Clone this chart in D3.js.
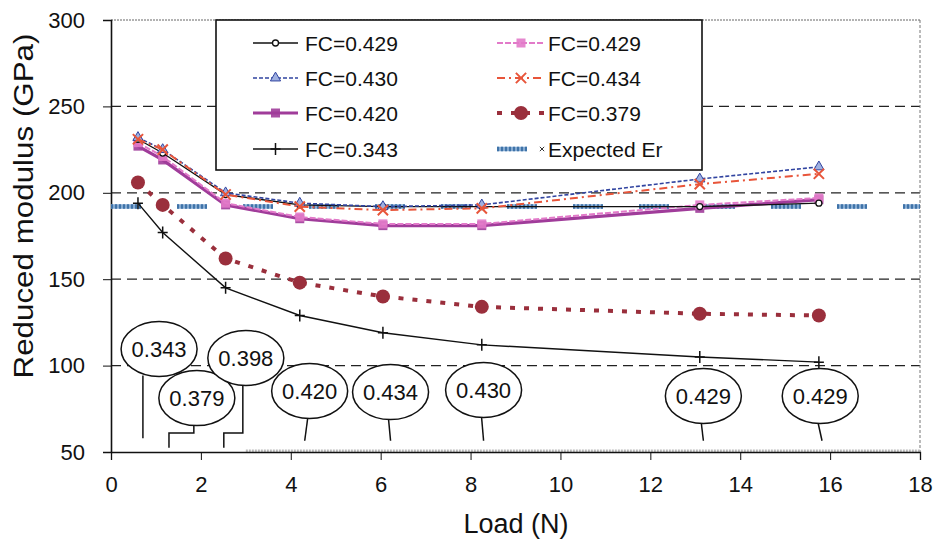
<!DOCTYPE html>
<html>
<head>
<meta charset="utf-8">
<script src="https://cdn.jsdelivr.net/npm/d3@7"></script>
<style>
    body { margin: 0; background: #fff; }
    text { font-family: "Liberation Sans", Arial, sans-serif; fill: #111; }
</style>
</head>
<body>
<svg id="chart" width="940" height="550"></svg>
<script>
// load values (N) where indentation was done
var loads = [0.6, 1.15, 2.55, 4.2, 6.05, 8.25, 13.1, 15.75]

// reduced modulus (GPa) per fill factor
var fc429a = [231, 223, 199, 193, 192, 192, 192, 194]
var fc430  = [232, 225, 200, 194, 192, 193, 208, 215]
var fc420  = [227, 219, 193, 185, 181, 181, 191, 196]
var fc343  = [194, 177, 145, 129, 119, 112, 105, 102]
var fc429b = [229, 221, 194, 186, 182, 182, 193, 197]
var fc434  = [231, 225, 199, 192, 190, 191, 205, 211]
var fc379  = [206, 193, 162, 148, 140, 134, 130, 129]
var expectedEr = 192

var legendLabels = ["FC=0.429", "FC=0.430", "FC=0.420", "FC=0.343",
                    "FC=0.429", "FC=0.434", "FC=0.379", "Expected Er"]

var xTicks = [0, 2, 4, 6, 8, 10, 12, 14, 16, 18]
var yTicks = [50, 100, 150, 200, 250, 300]

// callout bubbles: label, bubble centre (load, GPa), leader foot load
var bubbleLabels = ["0.343", "0.379", "0.398", "0.420", "0.434", "0.430", "0.429", "0.429"]
var bubbleX      = [1.07, 1.91, 3.0, 4.42, 6.22, 8.29, 13.18, 15.78]
var bubbleY      = [109.6, 81.2, 104.4, 85.3, 84.7, 85.9, 82.4, 82.4]
var leaderX      = [0.71, 1.29, 2.51, 4.31, 6.22, 8.29, 13.18, 15.82]

var svg = d3.select("#chart")
var margin = {left: 111, right: 20, top: 20, bottom: 98}
var width = 940 - margin.left - margin.right
var height = 550 - margin.top - margin.bottom

var x = d3.scaleLinear().domain([0, 18]).range([margin.left, margin.left + width])
var y = d3.scaleLinear().domain([50, 300]).range([margin.top + height, margin.top])

var series = [
    {vals: fc343,  color: "#111", w: 1.4, dash: null, marker: "plus"},
    {vals: fc379,  color: "#9a2f3c", w: 4, dash: "5,9", marker: "dot"},
    {vals: fc420,  color: "#a03c9a", w: 3.2, dash: null, marker: "square"},
    {vals: fc429b, color: "#e27ac9", w: 2, dash: "6,2", marker: "square"},
    {vals: fc429a, color: "#111", w: 1.3, dash: null, marker: "circle"},
    {vals: fc430,  color: "#3144a0", w: 1.6, dash: "4,2", marker: "triangle"},
    {vals: fc434,  color: "#e8553a", w: 2, dash: "8,4,2,4", marker: "times"}
]
var legendSeries = [series[4], series[5], series[2], series[0], series[3], series[6], series[1], null]

// grid lines
svg.append("g").selectAll("line")
    .data([100, 150, 200, 250])
    .enter().append("line")
    .attr("x1", x(0)).attr("x2", x(18))
    .attr("y1", function(d){return y(d)}).attr("y2", function(d){return y(d)})
    .attr("stroke", "#222").attr("stroke-width", 1.2).attr("stroke-dasharray", "10,6")

svg.append("line")
    .attr("x1", x(0)).attr("x2", x(18)).attr("y1", y(300)).attr("y2", y(300))
    .attr("stroke", "#666").attr("stroke-width", 1).attr("stroke-dasharray", "2,1")
svg.append("line")
    .attr("x1", x(18)).attr("x2", x(18)).attr("y1", y(300)).attr("y2", y(50))
    .attr("stroke", "#777").attr("stroke-width", 1).attr("stroke-dasharray", "3,2")
// faint grey band along bottom of plot
svg.append("line")
    .attr("x1", x(3)).attr("x2", x(18)).attr("y1", y(50) - 1).attr("y2", y(50) - 1)
    .attr("stroke", "#bbb").attr("stroke-width", 3).attr("stroke-dasharray", "2,1")

// axes
var xAxis = d3.axisBottom(x).tickValues(xTicks).tickSize(8).tickFormat(d3.format("d"))
var yAxis = d3.axisLeft(y).tickValues(yTicks).tickSize(8).tickFormat(d3.format("d"))

var gx = svg.append("g").attr("transform", "translate(0," + y(50) + ")").call(xAxis)
gx.select(".domain").attr("stroke", "#111").attr("stroke-width", 1.3)
gx.selectAll(".tick line").attr("stroke", "#111")
gx.selectAll(".tick text").attr("font-size", 22).attr("dy", "1.3em")
    .style("font-family", "Liberation Sans, Arial, sans-serif").attr("fill", "#111")

var gy = svg.append("g").attr("transform", "translate(" + x(0) + ",0)").call(yAxis)
gy.select(".domain").attr("stroke", "#111").attr("stroke-width", 1.6)
gy.selectAll(".tick line").attr("stroke", "#111")
gy.selectAll(".tick text").attr("font-size", 22).attr("x", -26)
    .style("font-family", "Liberation Sans, Arial, sans-serif").attr("fill", "#111")

svg.append("text")
    .attr("x", 516).attr("y", 533)
    .attr("text-anchor", "middle").attr("font-size", 27)
    .text("Load (N)")

svg.append("text")
    .attr("transform", "translate(33,206) rotate(-90)")
    .attr("text-anchor", "middle").attr("font-size", 27)
    .attr("textLength", 345).attr("lengthAdjust", "spacingAndGlyphs")
    .text("Reduced modulus (GPa)")

// expected Er reference line (hatched look: light dashes with dark stripes on top)
svg.append("line")
    .attr("x1", x(0)).attr("x2", x(18))
    .attr("y1", y(expectedEr)).attr("y2", y(expectedEr))
    .attr("stroke", "#86abd2").attr("stroke-width", 4.5).attr("stroke-dasharray", "30,36")
svg.append("line")
    .attr("x1", x(0)).attr("x2", x(18))
    .attr("y1", y(expectedEr)).attr("y2", y(expectedEr))
    .attr("stroke", "#3f73a8").attr("stroke-width", 4.5)
    .attr("stroke-dasharray", "2,2,2,2,2,2,2,2,2,2,2,2,2,2,2,36")

function drawMarker(g, type, color, cx, cy)
{
    if(type == "plus")
    {
        g.append("path")
            .attr("d", "M" + (cx - 5) + "," + cy + "H" + (cx + 5) + "M" + cx + "," + (cy - 6) + "V" + (cy + 6))
            .attr("stroke", color).attr("stroke-width", 1.5)
    }
    else if(type == "dot")
    {
        g.append("circle").attr("cx", cx).attr("cy", cy).attr("r", 7).attr("fill", color)
    }
    else if(type == "square")
    {
        g.append("rect").attr("x", cx - 4.5).attr("y", cy - 4.5).attr("width", 9).attr("height", 9)
            .attr("fill", color).attr("opacity", 0.9)
    }
    else if(type == "circle")
    {
        g.append("circle").attr("cx", cx).attr("cy", cy).attr("r", 3)
            .attr("fill", "#fff").attr("stroke", color).attr("stroke-width", 1.3)
    }
    else if(type == "triangle")
    {
        g.append("path").attr("d", d3.symbol().type(d3.symbolTriangle).size(45)())
            .attr("transform", "translate(" + cx + "," + cy + ")")
            .attr("fill", "#9fb0e0").attr("stroke", color).attr("stroke-width", 1)
    }
    else if(type == "times")
    {
        g.append("path").attr("d", d3.symbol().type(d3.symbolTimes).size(70)())
            .attr("transform", "translate(" + cx + "," + cy + ")")
            .attr("fill", "none").attr("stroke", color).attr("stroke-width", 2)
    }
}

var line = d3.line()
    .x(function(d, i){return x(loads[i])})
    .y(function(d){return y(d)})

var plot = svg.append("g")
series.forEach(function(s)
{
    plot.append("path")
        .datum(s.vals)
        .attr("d", line)
        .attr("fill", "none")
        .attr("stroke", s.color)
        .attr("stroke-width", s.w)
        .attr("stroke-dasharray", s.dash)
    s.vals.forEach(function(v, i)
    {
        drawMarker(plot, s.marker, s.color, x(loads[i]), y(v))
    })
})

// callout bubbles
var rx = 38, ry = 27.5
var bub = svg.append("g")
bubbleLabels.forEach(function(lab, i)
{
    var cx = x(bubbleX[i]), cy = y(bubbleY[i])
    var lx = x(leaderX[i])
    var path
    if(i == 1 || i == 2)
    {
        var sx = cx - 3
        path = "M" + sx + "," + (cy + ry) + "V" + y(61) + "H" + lx + "V" + y(52.5)
    }
    else if(i == 0)
    {
        path = "M" + lx + "," + (cy + ry - 1) + "V" + y(58)
    }
    else
    {
        path = "M" + (cx - 2) + "," + (cy + ry) + "L" + lx + "," + y(56.5)
    }
    bub.append("path").attr("d", path).attr("fill", "none")
        .attr("stroke", "#111").attr("stroke-width", 1.5)
    bub.append("ellipse").attr("cx", cx).attr("cy", cy).attr("rx", rx).attr("ry", ry)
        .attr("fill", "#fff").attr("stroke", "#111").attr("stroke-width", 1.5)
    bub.append("text").attr("x", cx).attr("y", cy + 8)
        .attr("text-anchor", "middle").attr("font-size", 22)
        .text(lab)
})

// legend
var legend = svg.append("g")
legend.append("rect")
    .attr("x", 216).attr("y", 20).attr("width", 486).attr("height", 150)
    .attr("fill", "#fff").attr("stroke", "#111").attr("stroke-width", 1.6)

var rowY = [43, 78, 113, 149]
legendLabels.forEach(function(lab, i)
{
    var col = Math.floor(i / 4)
    var ly = rowY[i % 4]
    var x0 = col == 0 ? 253 : 497
    var x1 = col == 0 ? 298 : 545
    var s = legendSeries[i]
    if(s)
    {
        legend.append("line")
            .attr("x1", x0).attr("x2", x1).attr("y1", ly).attr("y2", ly)
            .attr("stroke", s.color).attr("stroke-width", s.w)
            .attr("stroke-dasharray", s.dash)
        drawMarker(legend, s.marker, s.color, (x0 + x1) / 2, ly)
    }
    else
    {
        legend.append("line")
            .attr("x1", x0).attr("x2", x0 + 30).attr("y1", ly).attr("y2", ly)
            .attr("stroke", "#86abd2").attr("stroke-width", 4.5)
        legend.append("line")
            .attr("x1", x0).attr("x2", x0 + 30).attr("y1", ly).attr("y2", ly)
            .attr("stroke", "#3f73a8").attr("stroke-width", 4.5).attr("stroke-dasharray", "2,2")
        legend.append("path").attr("d", d3.symbol().type(d3.symbolTimes).size(14)())
            .attr("transform", "translate(" + (x1 - 3) + "," + ly + ")")
            .attr("stroke", "#333").attr("stroke-width", 1)
    }
    legend.append("text")
        .attr("x", col == 0 ? 305 : 548).attr("y", ly + 8)
        .attr("font-size", 21)
        .text(lab)
})
</script>
</body>
</html>
